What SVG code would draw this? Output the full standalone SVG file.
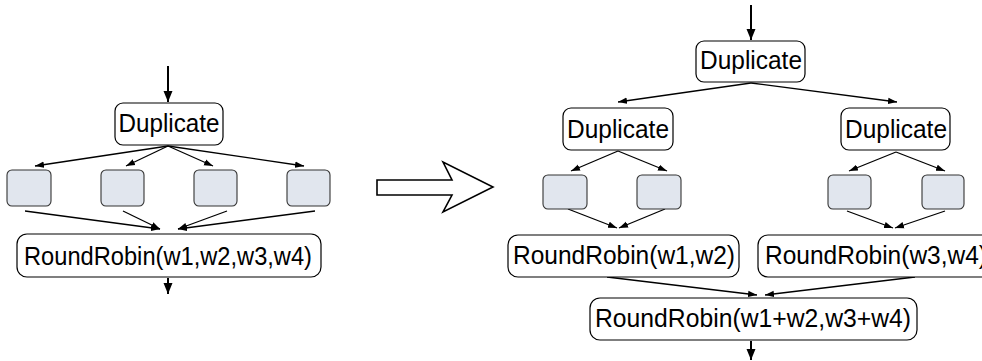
<svg xmlns="http://www.w3.org/2000/svg" width="982" height="361" viewBox="0 0 982 361">
<style>
.box{fill:#fff;stroke:#000;stroke-width:1.2}
.sq{fill:#e1e6ee;stroke:#333;stroke-width:1.1}
.t{font-family:"Liberation Sans",Arial,sans-serif;font-size:25px;fill:#000;text-anchor:middle}
.c{fill:none;stroke:#000;stroke-width:1.3}
.cb{fill:none;stroke:#000;stroke-width:2}
</style>
<defs>
<marker id="ah" markerWidth="10" markerHeight="8" refX="9" refY="4" orient="auto" markerUnits="userSpaceOnUse"><path d="M0,0.8 L9,4 L0,7.2 z" fill="#000"/></marker>
<marker id="ahb" markerWidth="12" markerHeight="10" refX="11" refY="5" orient="auto" markerUnits="userSpaceOnUse"><path d="M0,0.5 L11,5 L0,9.5 z" fill="#000"/></marker>
</defs>
<g id="connectors">
<path class="cb" d="M168,66 V102" marker-end="url(#ahb)"/>
<path class="c" d="M168,146 L35,166" marker-end="url(#ah)"/>
<path class="c" d="M168,146 L126,166" marker-end="url(#ah)"/>
<path class="c" d="M168,146 L213,166" marker-end="url(#ah)"/>
<path class="c" d="M168,146 L304,166" marker-end="url(#ah)"/>
<path class="c" d="M25,211 L160,229" marker-end="url(#ah)"/>
<path class="c" d="M123,211 L160,229" marker-end="url(#ah)"/>
<path class="c" d="M227,211 L178,229" marker-end="url(#ah)"/>
<path class="c" d="M315,211 L178,229" marker-end="url(#ah)"/>
<path class="cb" d="M168,278 V294" marker-end="url(#ahb)"/>
<path class="cb" d="M751,5 V40" marker-end="url(#ahb)"/>
<path class="c" d="M751,83 L618,102" marker-end="url(#ah)"/>
<path class="c" d="M751,83 L897,102" marker-end="url(#ah)"/>
<path class="c" d="M618,151 L571,171" marker-end="url(#ah)"/>
<path class="c" d="M618,151 L667,171" marker-end="url(#ah)"/>
<path class="c" d="M896,152 L849,171" marker-end="url(#ah)"/>
<path class="c" d="M896,152 L945,171" marker-end="url(#ah)"/>
<path class="c" d="M568,209 L617,228" marker-end="url(#ah)"/>
<path class="c" d="M665,209 L619,228" marker-end="url(#ah)"/>
<path class="c" d="M847,211 L893,228" marker-end="url(#ah)"/>
<path class="c" d="M945,211 L895,228" marker-end="url(#ah)"/>
<path class="c" d="M607,277 L757,295" marker-end="url(#ah)"/>
<path class="c" d="M915,277 L765,295" marker-end="url(#ah)"/>
<path class="cb" d="M751,341 V360" marker-end="url(#ahb)"/>
</g>
<g id="bigArrow">
<polygon points="377,180 452,180 443,162 493,187 443,212 452,195 377,195" fill="#fff" stroke="#000" stroke-width="1.6" stroke-linejoin="miter"/>
</g>
<g id="L_dup"><rect class="box" x="115" y="103" width="108" height="42" rx="8"/><text class="t" x="169" y="132" textLength="101" lengthAdjust="spacingAndGlyphs">Duplicate</text></g>
<g id="L_w1"><rect class="sq" x="7" y="170" width="44" height="36" rx="5"/></g>
<g id="L_w2"><rect class="sq" x="101" y="170" width="43" height="36" rx="5"/></g>
<g id="L_w3"><rect class="sq" x="194" y="170" width="43" height="36" rx="5"/></g>
<g id="L_w4"><rect class="sq" x="287" y="170" width="43" height="36" rx="5"/></g>
<g id="L_rr"><rect class="box" x="17" y="234" width="304" height="43" rx="10"/><text class="t" x="168" y="265" textLength="288" lengthAdjust="spacingAndGlyphs">RoundRobin(w1,w2,w3,w4)</text></g>
<g id="R_dup"><rect class="box" x="696" y="41" width="109" height="41" rx="8"/><text class="t" x="751" y="69" textLength="102" lengthAdjust="spacingAndGlyphs">Duplicate</text></g>
<g id="R_dupL"><rect class="box" x="563" y="108" width="110" height="42" rx="8"/><text class="t" x="618" y="138" textLength="102" lengthAdjust="spacingAndGlyphs">Duplicate</text></g>
<g id="R_dupR"><rect class="box" x="841" y="108" width="109" height="42" rx="8"/><text class="t" x="896" y="138" textLength="102" lengthAdjust="spacingAndGlyphs">Duplicate</text></g>
<g id="R_w1"><rect class="sq" x="543" y="175" width="44" height="34" rx="5"/></g>
<g id="R_w2"><rect class="sq" x="637" y="175" width="44" height="34" rx="5"/></g>
<g id="R_w3"><rect class="sq" x="828" y="175" width="43" height="34" rx="5"/></g>
<g id="R_w4"><rect class="sq" x="922" y="175" width="42" height="34" rx="5"/></g>
<g id="R_rr12"><rect class="box" x="508" y="235" width="231" height="42" rx="10"/><text class="t" x="624" y="264" textLength="222" lengthAdjust="spacingAndGlyphs">RoundRobin(w1,w2)</text></g>
<g id="R_rr34"><rect class="box" x="758" y="235" width="234" height="42" rx="10"/><text class="t" x="876" y="264" textLength="222" lengthAdjust="spacingAndGlyphs">RoundRobin(w3,w4)</text></g>
<g id="R_rr"><rect class="box" x="590" y="298" width="327" height="42" rx="10"/><text class="t" x="753" y="327" textLength="316" lengthAdjust="spacingAndGlyphs">RoundRobin(w1+w2,w3+w4)</text></g>
</svg>
